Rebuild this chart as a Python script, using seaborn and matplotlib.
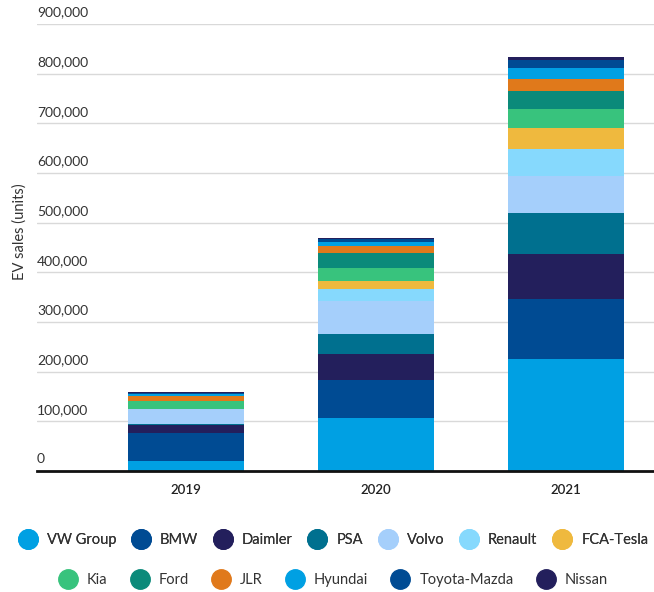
import numpy as np
import pandas as pd
import matplotlib
matplotlib.use("Agg")
import matplotlib.pyplot as plt
from matplotlib.lines import Line2D
import matplotlib.transforms as mtransforms
import seaborn as sns

# Data (EV sales in units)
years = ["2019", "2020", "2021"]
companies = ["VW Group", "BMW", "Daimler", "PSA", "Volvo", "Renault", "FCA-Tesla",
             "Kia", "Ford", "JLR", "Hyundai", "Toyota-Mazda", "Nissan"]
vw_group = [20000, 106000, 226000]
bmw = [57000, 77000, 121000]
daimler = [16000, 52000, 89000]
psa = [1000, 40000, 82500]
volvo = [31000, 67000, 75000]
renault = [0, 25000, 55000]
fca_tesla = [0, 15000, 42000]
kia = [15000, 27500, 37500]
ford = [0, 29500, 37500]
jlr = [11000, 15000, 23000]
hyundai = [4000, 8000, 22000]
toyota_mazda = [3000, 5000, 17500]
nissan = [1000, 2000, 5000]

colors = ["#00a0e3", "#004b93", "#231f5c", "#00708f", "#a5cffb", "#86d9fd", "#efb93e",
          "#38c37d", "#0b8a7a", "#e0791b", "#00a0e3", "#004b93", "#231f5c"]

series = [vw_group, bmw, daimler, psa, volvo, renault, fca_tesla,
          kia, ford, jlr, hyundai, toyota_mazda, nissan]

df = pd.DataFrame({name: vals for name, vals in zip(companies, series)}, index=years)
cum = df.cumsum(axis=1)

sns.set_style("white")
plt.rcParams["font.family"] = ["Lato", "DejaVu Sans"]

fig = plt.figure(figsize=(6.54, 5.92), dpi=100)
ax = fig.add_axes([37 / 654, 121 / 592, 617 / 654, 447 / 592])

# stacked bars: draw cumulative totals from the top series down
for name, col in reversed(list(zip(companies, colors))):
    sns.barplot(x=years, y=cum[name].values, color=col, width=0.615,
                linewidth=0, saturation=1, ax=ax, zorder=3)

ax.set_xlim(-0.784, 2.463)
ax.set_ylim(0, 900000)

yticks = np.arange(0, 900001, 100000)
ax.set_yticks(yticks)
ax.set_yticklabels([])
ax.tick_params(axis="y", length=0)
trans = mtransforms.blended_transform_factory(ax.transAxes, ax.transData)
trans = trans + mtransforms.ScaledTranslation(0, 4 / 72, fig.dpi_scale_trans)
for v in yticks:
    if v > 0:
        ax.axhline(v, color="#d9d9d9", linewidth=1, zorder=1)
    ax.text(0, v, f"{v:,}", transform=trans, ha="left", va="bottom",
            fontsize=10, color="#333333")

for s in ["top", "right", "left"]:
    ax.spines[s].set_visible(False)
ax.spines["bottom"].set_color("#111111")
ax.spines["bottom"].set_linewidth(2)
ax.spines["bottom"].set_zorder(5)

ax.tick_params(axis="x", length=0, pad=9, labelsize=9.5, labelcolor="#222222")
for t in ax.get_xticklabels():
    t.set_fontweight("semibold")
ax.set_xlabel("")
ax.set_ylabel("")
fig.text(20 / 654, 1 - 232 / 592, "EV sales (units)", rotation=90, ha="center",
         va="center", fontsize=10.5, color="#333333")

def legend_row(names, cols, y, spacing):
    handles = [Line2D([], [], marker="o", linestyle="", markersize=14,
                      markerfacecolor=c, markeredgecolor=c) for c in cols]
    leg = fig.legend(handles, names, loc="center", bbox_to_anchor=(0.51, y),
                     ncol=len(names), frameon=False, fontsize=10.5,
                     handletextpad=0.7, columnspacing=spacing, handlelength=1.2)
    for t in leg.get_texts():
        t.set_color("#333333")
    return leg

leg1 = legend_row(companies[:7], colors[:7], 1 - 540 / 592, 1.1)
fig.add_artist(leg1)
legend_row(companies[7:], colors[7:], 1 - 580 / 592, 1.6)

fig.savefig("out.png", dpi=100)
